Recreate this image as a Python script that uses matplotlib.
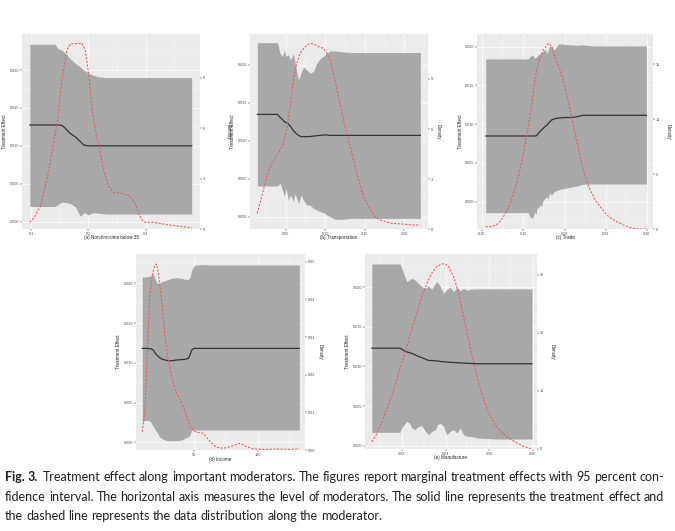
"""Treatment effect along important moderators (Fig. 3), five ggplot-style panels."""
import matplotlib
matplotlib.use("Agg")
import matplotlib.pyplot as plt
from matplotlib.ticker import AutoMinorLocator, FixedLocator

W, H = 675, 531

# ---- (a) Non-first-time below 35 ----
a_x = [0.098, 0.142, 0.146, 0.154, 0.160, 0.168, 0.177, 0.186, 0.192, 0.200, 0.209, 0.218, 0.232, 0.380]
a_upper = [0.0234, 0.0234, 0.0229, 0.0226, 0.0222, 0.0215, 0.0209, 0.0204, 0.0200, 0.0196, 0.0193, 0.0191, 0.0190, 0.0190]
a_lower = [0.0020, 0.0020, 0.0022, 0.0026, 0.0025, 0.0024, 0.0020, 0.0007, 0.0012, 0.0009, 0.0012, 0.0011, 0.0010, 0.0010]
a_effect = [0.01275, 0.01275, 0.01275, 0.0127, 0.0123, 0.01165, 0.0112, 0.01055, 0.0101, 0.0100, 0.0100, 0.0100, 0.0100, 0.0100]
a_dens_x = [0.0977, 0.1046, 0.1162, 0.1278, 0.1394, 0.1452, 0.1539, 0.1626, 0.1684, 0.1887, 0.1945, 0.2003,
            0.2061, 0.2119, 0.2183, 0.2264, 0.2351, 0.2438, 0.2612, 0.2728, 0.2814, 0.2872, 0.2930, 0.2988,
            0.3133, 0.3365, 0.3597, 0.3800]
a_dens = [0.40, 0.65, 1.35, 2.93, 5.11, 6.20, 8.87, 10.65, 11.01, 11.05, 10.65, 9.27, 7.29, 5.90, 4.97, 3.52,
          2.53, 2.18, 2.10, 1.94, 1.54, 0.95, 0.55, 0.40, 0.40, 0.26, 0.16, 0.06]

# ---- (b) Transportation ----
b_x = [0.0141, 0.0394, 0.0428, 0.0458, 0.0483, 0.0504, 0.0534, 0.0563, 0.0597, 0.0618, 0.0639, 0.0661, 0.0694,
       0.0724, 0.0766, 0.0808, 0.0851, 0.0893, 0.0935, 0.0977, 0.1020, 0.1062, 0.1125, 0.1210, 0.1337, 0.2203]
b_upper = [0.0229, 0.0229, 0.0215, 0.0211, 0.0219, 0.0211, 0.0213, 0.0206, 0.0215, 0.0202, 0.0191, 0.0180, 0.0189,
           0.0197, 0.0193, 0.0189, 0.0191, 0.0202, 0.0208, 0.0211, 0.0215, 0.0218, 0.0218, 0.0217, 0.0216, 0.0216]
b_lower = [0.00404, 0.00404, 0.00439, 0.00351, 0.00263, 0.00373, 0.00219, 0.00285, 0.00197, 0.00307, 0.00241,
           0.00175, 0.00285, 0.00219, 0.00154, 0.00154, 0.0011, 0.00088, 0.00066, 0.00053, 0.00022, 0.0,
           -0.00035, -0.00035, -0.00022, -0.00022]
b_effect = [0.01346, 0.01346, 0.01307, 0.0128, 0.0125, 0.0124, 0.0122, 0.01184, 0.01132, 0.0111, 0.01088, 0.0107,
            0.01053, 0.01053, 0.01053, 0.01055, 0.01061, 0.01065, 0.0107, 0.01075, 0.01075, 0.0107, 0.0107,
            0.0107, 0.0107, 0.0107]
b_dens_x = [0.0141, 0.0196, 0.0259, 0.0323, 0.0407, 0.0470, 0.0513, 0.0555, 0.0597, 0.0639, 0.0682, 0.0745,
            0.0808, 0.0851, 0.0914, 0.0977, 0.1020, 0.1062, 0.1104, 0.1168, 0.1231, 0.1294, 0.1358, 0.1421,
            0.1484, 0.1548, 0.1611, 0.1674, 0.1759, 0.1843, 0.1970, 0.2097, 0.2203]
b_dens = [0.94, 1.94, 3.14, 3.94, 4.54, 5.14, 5.94, 7.34, 8.94, 9.94, 10.54, 10.94, 11.14, 11.1, 10.94, 10.84,
          10.54, 10.14, 9.34, 7.94, 6.54, 5.34, 4.14, 2.94, 1.94, 1.34, 0.84, 0.58, 0.44, 0.34, 0.30, 0.24, 0.24]

# ---- (c) Trade ----
c_x = [0.1045, 0.1560, 0.1580, 0.1613, 0.1641, 0.1653, 0.1669, 0.1682, 0.1702, 0.1722, 0.1734, 0.1763, 0.1791,
       0.1803, 0.1815, 0.1844, 0.1872, 0.1905, 0.1925, 0.1945, 0.1986, 0.2006, 0.2067, 0.2108, 0.2148, 0.2189,
       0.2229, 0.2270, 0.2310, 0.2351, 0.2992]
c_upper = [0.01841, 0.01841, 0.01871, 0.01892, 0.01849, 0.01862, 0.0188, 0.01892, 0.01914, 0.01923, 0.01935,
           0.01966, 0.01914, 0.01957, 0.0200, 0.02009, 0.01957, 0.0200, 0.02034, 0.02034, 0.02034, 0.0203,
           0.02022, 0.02022, 0.02017, 0.02022, 0.02022, 0.02017, 0.02013, 0.02009, 0.02009]
c_lower = [-0.00142, -0.00142, -0.00194, -0.00215, -0.00129, -0.0017, -0.00065, -0.0009, -0.00043, -0.0006, 0.0,
           0.00043, 0.00065, 0.0003, 0.00108, 0.00086, 0.00129, 0.00142, 0.0015, 0.00159, 0.00165, 0.00172,
           0.00185, 0.00193, 0.00202, 0.00213, 0.00224, 0.00228, 0.00228, 0.00228, 0.00228]
c_effect = [0.00847, 0.00847, 0.00847, 0.00847, 0.00847, 0.00847, 0.0086, 0.00882, 0.00903, 0.00925, 0.00938,
            0.00968, 0.0099, 0.01011, 0.0102, 0.01054, 0.01065, 0.01075, 0.01078, 0.0108, 0.01084, 0.01085,
            0.01086, 0.01088, 0.01095, 0.01105, 0.01114, 0.01114, 0.01114, 0.01114, 0.01114]
c_dens_x = [0.1045, 0.1114, 0.1174, 0.1235, 0.1296, 0.1357, 0.1418, 0.1479, 0.1540, 0.1600, 0.1641, 0.1682,
            0.1742, 0.1803, 0.1844, 0.1884, 0.1945, 0.2006, 0.2067, 0.2128, 0.2189, 0.2249, 0.2310, 0.2371,
            0.2432, 0.2513, 0.2594, 0.2716, 0.2817, 0.2919, 0.2992]
c_dens = [0.21, 0.21, 0.36, 0.82, 1.58, 2.64, 4.15, 5.97, 8.39, 11.12, 13.55, 15.06, 16.27, 16.88, 16.58, 15.67,
          14.45, 12.94, 10.82, 8.70, 6.58, 4.76, 3.55, 2.64, 2.03, 1.27, 0.82, 0.36, 0.06, 0.0, 0.0]

# ---- (d) Income ----
d_x = [8.9, 12.4, 15.5, 17.6, 18.9, 20.3, 22.4, 24.2, 26.8, 29.5, 32.1, 36.1, 40.0, 42.6, 45.3, 46.6, 47.9,
       49.7, 51.8, 57.1, 62.4, 132.9]
d_upper = [0.02075, 0.02084, 0.02092, 0.02117, 0.02063, 0.02008, 0.0200, 0.02021, 0.02034, 0.0205, 0.02063,
           0.02071, 0.02063, 0.0205, 0.0205, 0.02075, 0.02168, 0.02218, 0.02231, 0.02235, 0.02231, 0.02231]
d_lower = [0.0026, 0.00281, 0.0026, 0.00197, 0.00164, 0.00134, 0.00071, 0.0005, 0.00029, 0.00021, 0.00021,
           0.00021, 0.00029, 0.0005, 0.00071, 0.00092, 0.00155, 0.00155, 0.00155, 0.00155, 0.00155, 0.00155]
d_effect = [0.01182, 0.01182, 0.01178, 0.01161, 0.01128, 0.01099, 0.01069, 0.01048, 0.01036, 0.01027, 0.01027,
            0.01036, 0.0104, 0.01044, 0.01057, 0.01099, 0.01161, 0.01182, 0.01182, 0.01182, 0.01182, 0.01182]
d_dens_x = [8.9, 11.1, 12.4, 13.7, 15.0, 17.1, 18.9, 20.3, 21.6, 22.9, 25.0, 26.8, 28.7, 30.8, 33.4, 36.1, 41.3,
            46.6, 50.5, 57.1, 62.4, 67.6, 72.9, 78.2, 86.1, 91.3, 96.6, 107.1, 115.0, 122.9, 132.9]
d_dens = [0.00487, 0.01062, 0.02212, 0.03274, 0.04159, 0.0469, 0.04912, 0.04938, 0.0469, 0.04336, 0.03717,
          0.03009, 0.02566, 0.02124, 0.0177, 0.01504, 0.0115, 0.00619, 0.00487, 0.00442, 0.00221, 0.00071,
          0.00044, 0.00088, 0.00177, 0.00088, 0.00027, 0.00018, 0.00027, 0.00018, 0.00027]

# ---- (e) Manufacture ----
e_x = [0.0063, 0.0192, 0.0200, 0.0211, 0.0223, 0.0235, 0.0246, 0.0261, 0.0276, 0.0292, 0.0307, 0.0322, 0.0337,
       0.0353, 0.0363, 0.0376, 0.0391, 0.0406, 0.0421, 0.0437, 0.0452, 0.0467, 0.0482, 0.0498, 0.0513, 0.0544,
       0.0636, 0.0795]
e_upper = [0.02294, 0.02294, 0.0224, 0.02155, 0.02071, 0.02092, 0.02113, 0.02092, 0.0205, 0.02008, 0.01987,
           0.02017, 0.01975, 0.0205, 0.02071, 0.02008, 0.01924, 0.01975, 0.0200, 0.01945, 0.0200, 0.01958,
           0.01987, 0.01966, 0.01975, 0.01979, 0.01979, 0.01979]
e_lower = [0.00168, 0.00168, 0.00223, 0.00265, 0.00307, 0.00286, 0.00223, 0.00202, 0.00244, 0.00252, 0.00181,
           0.00139, 0.00181, 0.00202, 0.00265, 0.00286, 0.00244, 0.00139, 0.00181, 0.00202, 0.0016, 0.00223,
           0.00139, 0.00118, 0.00118, 0.00097, 0.00084, 0.00084]
e_effect = [0.01231, 0.01231, 0.0122, 0.01197, 0.01185, 0.01174, 0.01165, 0.01147, 0.01126, 0.01112, 0.01095,
            0.01076, 0.01074, 0.01072, 0.0107, 0.01063, 0.0106, 0.01055, 0.01052, 0.0105, 0.01048, 0.01046,
            0.01042, 0.0104, 0.01038, 0.01034, 0.01034, 0.01034]
e_dens_x = [0.0063, 0.0085, 0.0108, 0.0131, 0.0154, 0.0177, 0.0200, 0.0223, 0.0246, 0.0269, 0.0292, 0.0315,
            0.0337, 0.0360, 0.0383, 0.0398, 0.0414, 0.0437, 0.0460, 0.0482, 0.0505, 0.0528, 0.0551, 0.0574,
            0.0597, 0.0620, 0.0643, 0.0666, 0.0696, 0.0727, 0.0757, 0.0795]
e_dens = [1.26, 2.57, 4.57, 6.86, 9.14, 12.0, 14.86, 17.71, 20.57, 23.43, 26.29, 28.57, 30.29, 31.43, 31.89,
          31.89, 31.43, 29.71, 26.86, 22.86, 18.86, 14.86, 11.43, 8.57, 6.29, 4.57, 3.43, 2.57, 1.71, 1.03,
          0.46, 0.0]

effect_ticks = [0.000, 0.005, 0.010, 0.015, 0.020]
effect_labels = ["0.000", "0.005", "0.010", "0.015", "0.020"]

caption_lines = [
    "Fig. 3. Treatment effect along important moderators. The figures report marginal treatment effects with 95 percent con-",
    "fidence interval. The horizontal axis measures the level of moderators. The solid line represents the treatment effect and",
    "the dashed line represents the data distribution along the moderator.",
]

PANEL_BG = "#ebebeb"
BAND = "#a8a8a8"
TICK_TXT = "#4d4d4d"
FONT = "Liberation Sans"

fig = plt.figure(figsize=(W / 100, H / 100), dpi=100)
fig.patch.set_facecolor("white")


def draw_panel(box, x, lo, hi, eff, dx, dens, xlim, ylim, y2lim,
               xticks, xlabels, y2ticks, y2labels, xlabel, ytitle_x, dtitle_x):
    l, r, t, b = box
    ax = fig.add_axes([l / W, 1 - b / H, (r - l) / W, (b - t) / H])
    ax.set_facecolor(PANEL_BG)
    ax.fill_between(x, lo, hi, color=BAND, lw=0, zorder=2)
    ax.plot(x, eff, color="#333333", lw=0.9, zorder=3)
    ax.set_xlim(*xlim)
    ax.set_ylim(*ylim)
    ax.xaxis.set_major_locator(FixedLocator(xticks))
    ax.set_xticklabels(xlabels)
    ax.set_yticks(effect_ticks)
    ax.set_yticklabels(effect_labels)
    ax.xaxis.set_minor_locator(AutoMinorLocator(2))
    ax.yaxis.set_minor_locator(AutoMinorLocator(2))
    ax.grid(which="major", color="white", lw=0.45, zorder=1)
    ax.grid(which="minor", color="white", lw=0.25, zorder=1)
    ax.set_axisbelow(True)
    ax.tick_params(which="major", length=1.5, width=0.35, color="#333333",
                   labelsize=2.7, labelcolor=TICK_TXT, pad=0.6)
    ax.tick_params(which="minor", length=0)
    for s in ax.spines.values():
        s.set_visible(False)
    for lab in ax.get_xticklabels() + ax.get_yticklabels():
        lab.set_family(FONT)

    ax2 = ax.twinx()
    ax2.plot(dx, dens, color="#e35a5a", lw=0.75, ls=(0, (2.0, 1.5)), zorder=4)
    ax2.set_ylim(*y2lim)
    ax2.set_yticks(y2ticks)
    ax2.set_yticklabels(y2labels)
    ax2.tick_params(length=1.5, width=0.35, color="#333333",
                    labelsize=2.7, labelcolor=TICK_TXT, pad=0.6)
    for s in ax2.spines.values():
        s.set_visible(False)
    for lab in ax2.get_yticklabels():
        lab.set_family(FONT)

    cy = 1 - (t + b) / 2 / H
    fig.text((l + r) / 2 / W, 1 - (b + 9) / H, xlabel, ha="center", va="center",
             fontsize=3.3, family=FONT, color="#222222")
    fig.text(ytitle_x / W, cy, "Treatment Effect", rotation=90, ha="center", va="center",
             fontsize=3.3, family=FONT, color="#222222")
    fig.text(dtitle_x / W, cy, "Density", rotation=270, ha="center", va="center",
             fontsize=3.3, family=FONT, color="#222222")


draw_panel((22, 200, 34, 229), a_x, a_lower, a_upper, a_effect, a_dens_x, a_dens,
           (0.0843, 0.3945), (-0.00097, 0.02475), (0.02, 11.6),
           [0.1, 0.2, 0.3], ["0.1", "0.2", "0.3"], [0, 3, 6, 9], ["0", "3", "6", "9"],
           "(a) Non-first-time below 35", 5, 228)
draw_panel((250, 428, 34, 229), b_x, b_lower, b_upper, b_effect, b_dens_x, b_dens,
           (0.0048, 0.23), (-0.00162, 0.02404), (0.0, 11.7),
           [0.05, 0.10, 0.15, 0.20], ["0.05", "0.10", "0.15", "0.20"], [0, 3, 6, 9], ["0", "3", "6", "9"],
           "(b) Transportation", 233, 438)
draw_panel((477, 653, 34, 229), c_x, c_lower, c_upper, c_effect, c_dens_x, c_dens,
           (0.0939, 0.3073), (-0.00353, 0.02163), (0.0, 17.73),
           [0.10, 0.15, 0.20, 0.25, 0.30], ["0.10", "0.15", "0.20", "0.25", "0.30"],
           [0, 5, 10, 15], ["0", "5", "10", "15"],
           "(c) Trade", 461, 668)
draw_panel((136, 305, 254, 450), d_x, d_lower, d_upper, d_effect, d_dens_x, d_dens,
           (3.95, 137.4), (-0.00096, 0.02369), (0.0, 0.05204),
           [50, 100], ["50", "100"],
           [0.0, 0.01, 0.02, 0.03, 0.04, 0.05], ["0.00", "0.01", "0.02", "0.03", "0.04", "0.05"],
           "(d) Income", 119, 320)
draw_panel((365, 537, 254, 449), e_x, e_lower, e_upper, e_effect, e_dens_x, e_dens,
           (0.0032, 0.0818), (-0.00042, 0.0242), (0.114, 33.6),
           [0.02, 0.04, 0.06, 0.08], ["0.02", "0.04", "0.06", "0.08"],
           [0, 10, 20, 30], ["0", "10", "20", "30"],
           "(e) Manufacture", 347, 552)

# Caption, justified like the journal page (last line left-aligned,
# using the average word gap of the justified lines).
renderer = fig.canvas.get_renderer()
CAP_FONT = "Lato"
CAP_SIZE = 9.0
left_px, right_px = 5, 664
line_y = [477, 497, 516]

placed = []
gaps = []
for i, line in enumerate(caption_lines):
    words = line.split(" ")
    weights = ["bold" if (i == 0 and j < 2) else "normal" for j in range(len(words))]
    texts = []
    total = 0.0
    for w_, wt in zip(words, weights):
        t = fig.text(0, 1 - line_y[i] / H, w_, fontsize=CAP_SIZE, family=CAP_FONT,
                     weight=wt, color="#231f20", va="center", ha="left")
        wpx = t.get_window_extent(renderer).width
        texts.append((t, wpx))
        total += wpx
    extra = 2 if i == 0 else 0
    if i < len(caption_lines) - 1:
        gap = (right_px - left_px - total - extra) / (len(words) - 1)
        gaps.append(gap)
    else:
        gap = sum(gaps) / len(gaps)
    xpos = left_px
    for j, (t, wpx) in enumerate(texts):
        t.set_x(xpos / W)
        xpos += wpx + gap
        if i == 0 and j == 1:
            xpos += extra

fig.savefig("out.png", dpi=100, facecolor="white")
